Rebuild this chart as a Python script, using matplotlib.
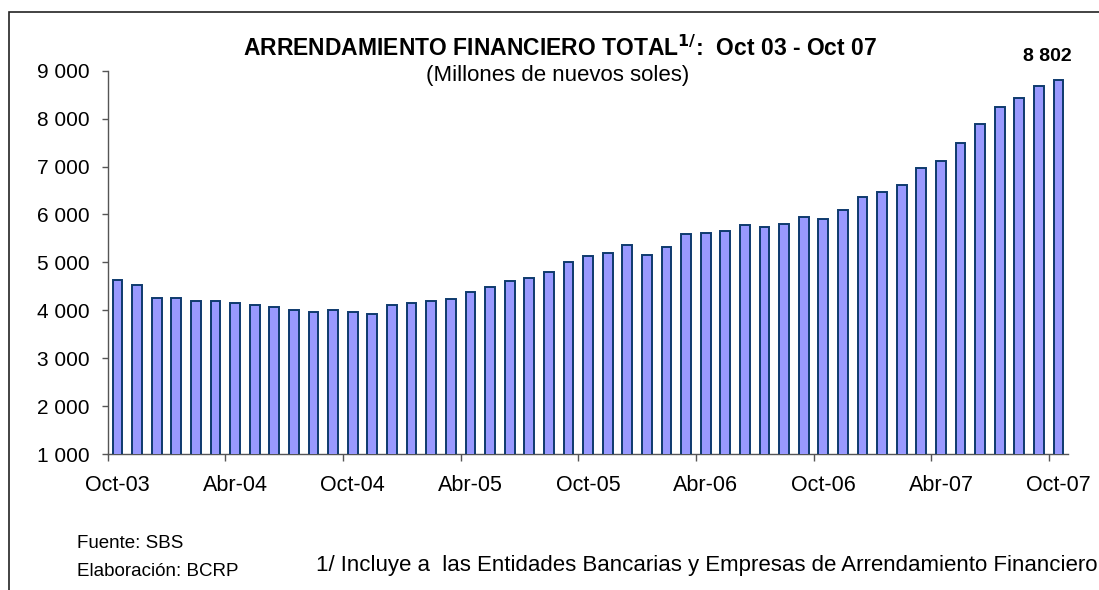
import matplotlib
matplotlib.use("Agg")
import matplotlib.pyplot as plt
from matplotlib.patches import Rectangle
from matplotlib.ticker import FuncFormatter

plt.rcParams['font.family'] = ['Liberation Sans', 'DejaVu Sans']

values = [4633, 4522, 4263, 4263, 4188, 4188, 4146, 4117, 4075, 4000,
          3958, 4000, 3958, 3923, 4117, 4146, 4188, 4230, 4376, 4486,
          4605, 4681, 4793, 5015, 5127, 5203, 5357, 5161, 5315, 5587,
          5614, 5656, 5777, 5742, 5802, 5948, 5906, 6094, 6359, 6470,
          6622, 6971, 7111, 7486, 7896, 8238, 8426, 8689, 8802]
tick_labels = ["Oct-03", "Abr-04", "Oct-04", "Abr-05", "Oct-05",
               "Abr-06", "Oct-06", "Abr-07", "Oct-07"]
y_ticks = [1000, 2000, 3000, 4000, 5000, 6000, 7000, 8000, 9000]
last_label = "8 802"

W, H = 1099, 590
fig = plt.figure(figsize=(W / 100, H / 100), dpi=100)
ax = fig.add_axes([107.7 / W, 1 - 454 / H, (1068.4 - 107.7) / W, (454 - 70.7) / H])

x = list(range(len(values)))
ax.bar(x, values, width=0.5, color='#9999FF', edgecolor='#0E3A6E', linewidth=1.4,
       zorder=3)
ax.set_xlim(-0.5, len(values) - 0.5)
ax.set_ylim(1000, 9000)

ax.set_yticks(y_ticks)
ax.yaxis.set_major_formatter(FuncFormatter(lambda v, p: f"{int(v):,}".replace(",", " ")))
ax.tick_params(axis='y', length=4, width=1, color='#555555', labelsize=15, pad=9)

major = [i * 6 - 0.5 for i in range(len(tick_labels))]
ax.set_xticks(major)
ax.set_xticklabels([])
ax.set_xticks([i * 6 for i in range(len(tick_labels))], minor=True)
ax.set_xticklabels(tick_labels, minor=True)
ax.tick_params(axis='x', which='major', length=5, width=1, color='#555555')
ax.tick_params(axis='x', which='minor', length=0, labelsize=15.5, pad=15)

for s in ['top', 'right']:
    ax.spines[s].set_visible(False)
for s in ['left', 'bottom']:
    ax.spines[s].set_color('#555555')
    ax.spines[s].set_linewidth(1.0)

# outer frame
fig.patches.append(Rectangle((9 / W, -0.1), 2, 1.1 - 12 / H, transform=fig.transFigure,
                             fill=False, edgecolor='#222222', linewidth=1.2))

fig.text(560 / W, 1 - 48.5 / H, r"ARRENDAMIENTO FINANCIERO TOTAL$^{\mathbf{1/}}$:  Oct 03 - Oct 07",
         ha='center', va='center', fontsize=16.5, fontweight='bold')
fig.text(558 / W, 1 - 76 / H, "(Millones de nuevos soles)", ha='center', va='center', fontsize=16)

ax.annotate(last_label, (x[-1], values[-1]), xytext=(-8, 11), textcoords='offset points',
            ha='center', va='bottom', fontsize=14, fontweight='bold')

fig.text(77 / W, 1 - 544 / H, "Fuente: SBS", ha='left', va='center', fontsize=13.5)
fig.text(77 / W, 1 - 572 / H, "Elaboración: BCRP", ha='left', va='center', fontsize=13.5)
fig.text(316 / W, 1 - 566 / H,
         "1/ Incluye a  las Entidades Bancarias y Empresas de Arrendamiento Financiero",
         ha='left', va='center', fontsize=16)

fig.savefig("out.png", dpi=100)
